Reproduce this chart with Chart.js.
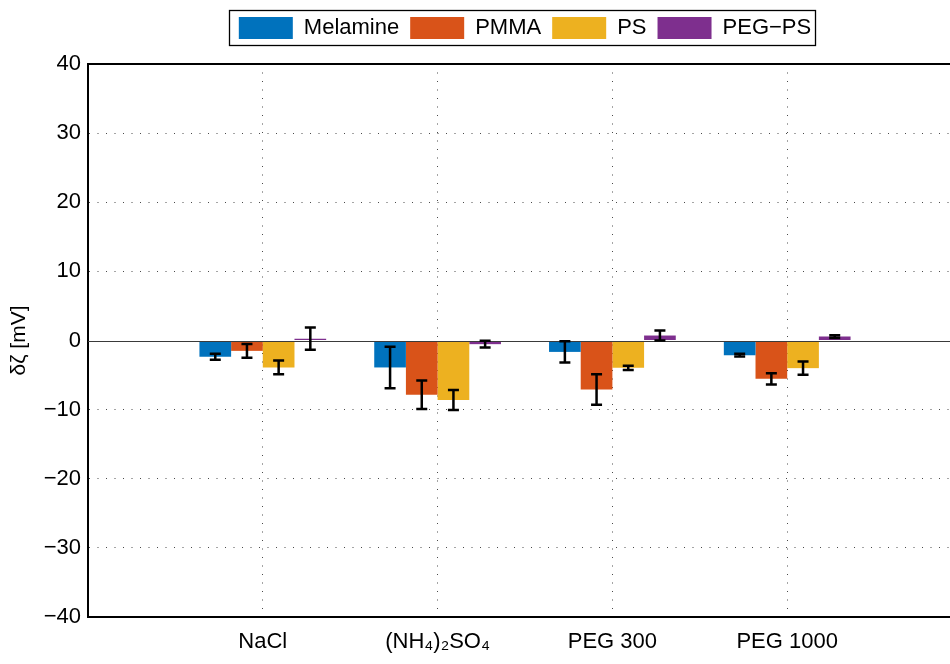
<!DOCTYPE html>
<html>
<head>
<meta charset="utf-8">
<script src="https://cdn.jsdelivr.net/npm/chart.js@4.4.1/dist/chart.umd.min.js"></script>
<style>
html,body{margin:0;padding:0;background:#fff;overflow:hidden;width:950px;height:664px}
#wrap{width:974px;height:664px;position:relative}
#c{display:block;width:974px;height:664px}
</style>
</head>
<body>
<div id="wrap"><canvas id="c" width="974" height="664"></canvas></div>
<script>
// ---- data ----
const categories = ['NaCl', '(NH₄)₂SO₄', 'PEG 300', 'PEG 1000'];
const categoryPositions = [1, 2, 3, 4];
const seriesNames = ['Melamine', 'PMMA', 'PS', 'PEG−PS'];
const seriesColors = ['#0072BD', '#D95319', '#EDB120', '#7E2F8E'];
const melamine    = [-2.35, -3.9, -1.65, -2.13];
const melamineErr = [0.45, 3.0, 1.55, 0.2];
const pmma        = [-1.5, -7.85, -7.1, -5.55];
const pmmaErr     = [1.0, 2.05, 2.2, 0.8];
const ps          = [-3.9, -8.6, -3.95, -4.0];
const psErr       = [1.0, 1.45, 0.3, 0.95];
const pegps       = [0.27, -0.53, 0.72, 0.57];
const pegpsErr    = [1.6, 0.48, 0.72, 0.2];
const yTickValues = [-40, -30, -20, -10, 0, 10, 20, 30, 40];

const seriesValues = [melamine, pmma, ps, pegps];
const seriesErrors = [melamineErr, pmmaErr, psErr, pegpsErr];

const FONT = 'Liberation Sans, Arial, Helvetica, sans-serif';
Chart.defaults.font.family = FONT;
Chart.defaults.color = '#000';

const datasets = seriesNames.map((name, i) => ({
  label: name,
  data: categoryPositions.map((x, j) => ({ x: x, y: seriesValues[i][j] })),
  backgroundColor: seriesColors[i],
  borderWidth: 0
}));

const GRID = '#4a4a4a';
const NONE = 'rgba(0,0,0,0)';

const legendSpacer = {
  id: 'legendSpacer',
  afterInit(chart) {
    const lg = chart.legend;
    if (!lg) return;
    const f = lg.fit;
    lg.fit = function () { f.call(this); this.height += 15; };
  }
};

const decor = {
  id: 'decor',
  afterDatasetsDraw(chart) {
    const { ctx, chartArea: a, scales: { y } } = chart;
    const py = Math.round(y.getPixelForValue(0)) + 0.5;
    ctx.save();
    ctx.strokeStyle = '#3a3a3a';
    ctx.lineWidth = 1;
    ctx.beginPath();
    ctx.moveTo(a.left, py);
    ctx.lineTo(a.right, py);
    ctx.stroke();
    ctx.strokeStyle = '#000';
    ctx.lineWidth = 2.5;
    seriesValues.forEach((vals, i) => {
      const meta = chart.getDatasetMeta(i);
      meta.data.forEach((bar, j) => {
        const v = vals[j], e = seriesErrors[i][j];
        const yt = y.getPixelForValue(v + e);
        const yb = y.getPixelForValue(v - e);
        const x = bar.x, w = 5.5;
        ctx.beginPath();
        ctx.moveTo(x, yt); ctx.lineTo(x, yb);
        ctx.moveTo(x - w, yt); ctx.lineTo(x + w, yt);
        ctx.moveTo(x - w, yb); ctx.lineTo(x + w, yb);
        ctx.stroke();
      });
    });
    ctx.restore();
  },
  afterDraw(chart) {
    const { ctx, chartArea: a } = chart;
    ctx.save();
    ctx.strokeStyle = '#000';
    ctx.lineWidth = 2;
    ctx.beginPath();
    ctx.moveTo(a.left, a.top);
    ctx.lineTo(a.right, a.top);
    ctx.stroke();
    const lg = chart.legend;
    if (lg && lg.legendHitBoxes && lg.legendHitBoxes.length) {
      const hb = lg.legendHitBoxes;
      const first = hb[0], last = hb[hb.length - 1];
      const l = first.left - 10, r = last.left + last.width + 4;
      const t = first.top - 7, b = first.top + first.height + 6;
      ctx.lineWidth = 1.3;
      ctx.strokeRect(Math.round(l) + 0.5, Math.round(t) + 0.5, Math.round(r - l), Math.round(b - t));
    }
    ctx.restore();
  }
};

new Chart(document.getElementById('c'), {
  type: 'bar',
  data: { datasets },
  plugins: [legendSpacer, decor],
  options: {
    responsive: false,
    maintainAspectRatio: false,
    animation: false,
    devicePixelRatio: 1,
    layout: { padding: { left: 0, right: 0, top: 6, bottom: 0 } },
    datasets: { bar: { categoryPercentage: 0.725, barPercentage: 1 } },
    plugins: {
      legend: {
        position: 'top',
        fullSize: false,
        labels: {
          boxWidth: 54, boxHeight: 22, padding: 11, color: '#000',
          font: { family: FONT, size: 22 }
        }
      },
      tooltip: { enabled: false }
    },
    scales: {
      x: {
        type: 'linear',
        min: 0, max: 5,
        offset: false,
        afterFit(s) { s.height = 47; },
        afterBuildTicks(s) { s.ticks = [0, 1, 2, 3, 4, 5].map(v => ({ value: v })); },
        ticks: {
          stepSize: 1, autoSkip: false, maxRotation: 0, minRotation: 0, padding: 12,
          color: '#000', font: { family: FONT, size: 22 },
          callback: (v) => { const k = categoryPositions.indexOf(v); return k >= 0 ? categories[k] : ''; }
        },
        grid: {
          offset: false, drawTicks: false, lineWidth: 1,
          color: (c) => (c.tick && categoryPositions.includes(c.tick.value)) ? GRID : NONE
        },
        border: { display: true, color: '#000', width: 2, dash: [1, 7.5] }
      },
      y: {
        min: -40, max: 40,
        afterFit(s) { s.width = 88; },
        afterBuildTicks(s) { s.ticks = yTickValues.map(v => ({ value: v })); },
        ticks: {
          padding: 7, color: '#000', font: { family: FONT, size: 22 },
          callback: (v) => v < 0 ? '\u2212' + Math.abs(v) : String(v)
        },
        grid: {
          drawTicks: false, lineWidth: 1,
          color: (c) => (c.tick && (c.tick.value === 40 || c.tick.value === -40 || c.tick.value === 0)) ? NONE : GRID
        },
        border: { display: true, color: '#000', width: 2, dash: [1, 7.5] },
        title: {
          display: true, text: 'δζ [mV]', color: '#000',
          font: { family: FONT, size: 21 },
          padding: { top: 7, bottom: 0 }
        }
      }
    }
  }
});
</script>
</body>
</html>
